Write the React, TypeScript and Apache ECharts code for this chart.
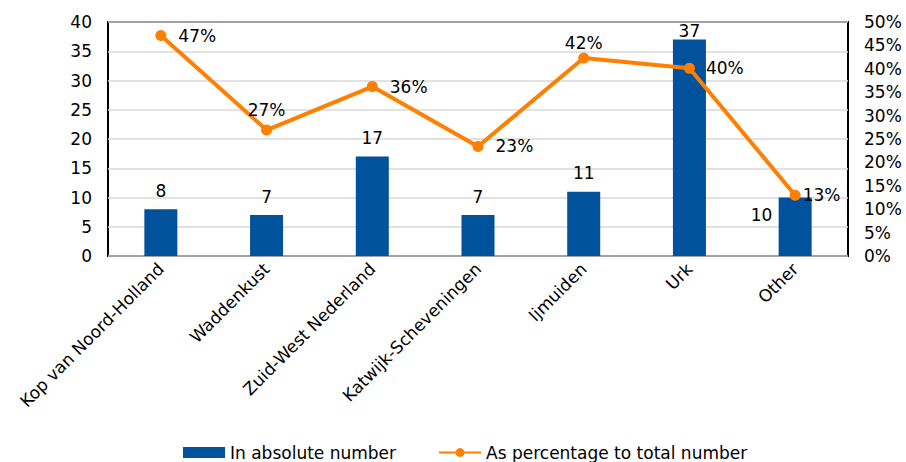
import React, { useEffect, useRef } from "react";
import * as echarts from "echarts";

const categories = [
  "Kop van Noord-Holland",
  "Waddenkust",
  "Zuid-West Nederland",
  "Katwijk-Scheveningen",
  "Ijmuiden",
  "Urk",
  "Other",
];
const absoluteValues = [8, 7, 17, 7, 11, 37, 10];
const percentValues = [47.1, 26.9, 36.2, 23.4, 42.3, 40.1, 13.0];
const leftTicks = { min: 0, max: 40, interval: 5 };
const rightTicks = { min: 0, max: 50, interval: 5 };
const seriesNames = ["In absolute number", "As percentage to total number"];

const FONT = "'DejaVu Sans', Verdana, sans-serif";
const FS = 17;
const BLUE = "#00529c";
const ORANGE = "#ff7f00";

// label placement (styling, not data)
const pctLabelPos = ["right", "top", "right", "right", "top", "right", "right"];
const pctLabelDist = [12, 6, 12, 12, 1, 11, 2];

export default function App() {
  const ref = useRef<HTMLDivElement>(null);
  useEffect(() => {
    if (!ref.current) return;
    const chart = echarts.init(ref.current, undefined, { renderer: "svg" });
    const barData = absoluteValues.map((v, i) => {
      if (categories[i] === "Other") {
        return { value: v, label: { position: [-28, 9] } };
      }
      if (categories[i] === "Urk") {
        return { value: v, label: { distance: 0 } };
      }
      return v;
    });
    const lineData = percentValues.map((v, i) => ({
      value: v,
      label: { position: pctLabelPos[i], distance: pctLabelDist[i] },
    }));
    chart.setOption({
      animation: false,
      textStyle: { fontFamily: FONT, color: "#000" },
      grid: {
        left: 108,
        right: 58,
        top: 22,
        height: 234,
        show: true,
        borderColor: "#000",
        borderWidth: 2,
        backgroundColor: "transparent",
      },
      legend: {
        left: 183,
        top: 444,
        itemWidth: 42,
        itemHeight: 11,
        itemGap: 42,
        padding: 0,
        textStyle: { fontFamily: FONT, fontSize: FS, color: "#000" },
        data: [
          { name: seriesNames[0], icon: "rect" },
          { name: seriesNames[1] },
        ],
      },
      xAxis: {
        type: "category",
        data: categories,
        axisLine: { show: false },
        axisTick: { show: false },
        axisLabel: {
          rotate: 45,
          margin: 10,
          fontSize: FS,
          fontFamily: FONT,
          color: "#000",
          interval: 0,
        },
      },
      yAxis: [
        {
          type: "value",
          min: leftTicks.min,
          max: leftTicks.max,
          interval: leftTicks.interval,
          axisLine: { show: false },
          axisTick: { show: false },
          axisLabel: { fontSize: FS, fontFamily: FONT, color: "#000", margin: 16 },
          splitLine: { lineStyle: { color: "#d9d9d9", width: 1.5 } },
        },
        {
          type: "value",
          min: rightTicks.min,
          max: rightTicks.max,
          interval: rightTicks.interval,
          axisLine: { show: false },
          axisTick: { show: false },
          axisLabel: {
            fontSize: FS,
            fontFamily: FONT,
            color: "#000",
            margin: 16,
            formatter: "{value}%",
          },
          splitLine: { show: false },
        },
      ],
      series: [
        {
          name: seriesNames[0],
          type: "bar",
          data: barData,
          barWidth: 33,
          itemStyle: { color: BLUE },
          label: {
            show: true,
            position: "top",
            distance: 10,
            fontSize: FS,
            fontFamily: FONT,
            color: "#000",
          },
          z: 2,
        },
        {
          name: seriesNames[1],
          type: "line",
          yAxisIndex: 1,
          data: lineData,
          symbol: "circle",
          symbolSize: 11,
          lineStyle: { color: ORANGE, width: 4 },
          itemStyle: { color: ORANGE },
          label: {
            show: true,
            fontSize: FS,
            fontFamily: FONT,
            color: "#000",
            formatter: (p: any) => Math.round(p.value) + "%",
          },
          z: 3,
        },
      ],
    });
    return () => chart.dispose();
  }, []);
  return (
    <div
      ref={ref}
      style={{ position: "absolute", left: 0, top: 0, width: 906, height: 462 }}
    />
  );
}
